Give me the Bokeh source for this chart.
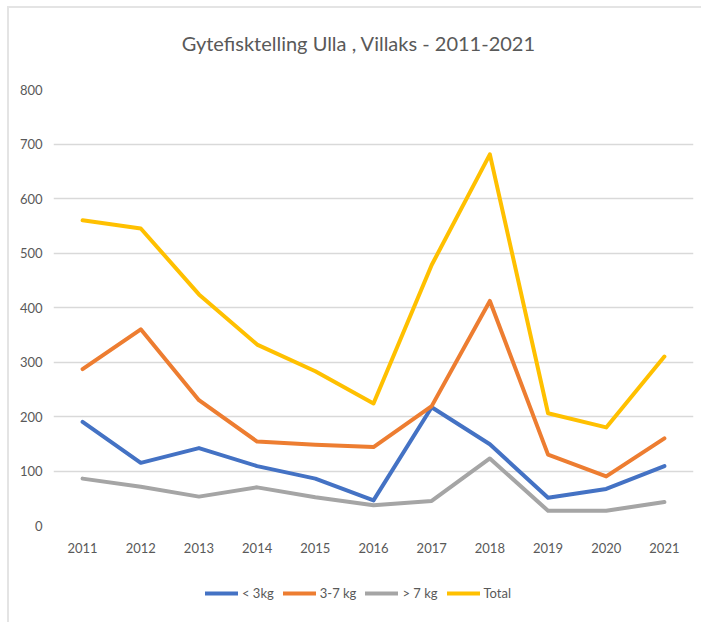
from bokeh.plotting import figure
from bokeh.layouts import column
from bokeh.models import Range1d, FixedTicker, Legend, LegendItem, Label
from bokeh.embed import file_html
from bokeh.resources import INLINE

years = [2011, 2012, 2013, 2014, 2015, 2016, 2017, 2018, 2019, 2020, 2021]
under_3kg = [190, 115, 142, 109, 86, 46, 217, 149, 51, 67, 109]
kg_3_7 = [287, 360, 230, 154, 148, 144, 219, 412, 130, 90, 160]
over_7kg = [86, 71, 53, 70, 52, 37, 45, 123, 27, 27, 43]
total = [560, 545, 424, 332, 283, 224, 478, 681, 206, 180, 310]

series_names = ["< 3kg", "3-7 kg", "> 7 kg", "Total"]
series_colors = ["#4472C4", "#ED7D31", "#A5A5A5", "#FFC000"]
y_ticks = [0, 100, 200, 300, 400, 500, 600, 700, 800]
title_text = "Gytefisktelling Ulla , Villaks - 2011-2021"

FONT = "Lato"
TXT = "#595959"
W = 692
all_series = [under_3kg, kg_3_7, over_7kg, total]

# --- title strip ---
pt = figure(width=W, height=60, output_backend="svg", toolbar_location=None,
            x_range=Range1d(0, W), y_range=Range1d(0, 60),
            x_axis_type=None, y_axis_type=None,
            min_border_left=0, min_border_right=0, min_border_top=0, min_border_bottom=0)
pt.outline_line_color = None
pt.add_layout(Label(x=330, y=26, text=title_text, text_align="center", text_baseline="middle",
                    text_font=FONT, text_font_size="20px", text_color=TXT))

# --- main chart ---
p = figure(frame_width=640, frame_height=436, output_backend="svg", toolbar_location=None,
           x_range=Range1d(2010.5, 2021.5), y_range=Range1d(0, 800),
           min_border_left=44, min_border_right=8, min_border_top=21, min_border_bottom=35)
p.outline_line_color = None
p.xgrid.grid_line_color = None
p.ygrid.grid_line_color = "#D9D9D9"
p.ygrid.grid_line_width = 1.5
p.ygrid.ticker = FixedTicker(ticks=y_ticks)

p.yaxis.ticker = FixedTicker(ticks=y_ticks)
p.xaxis.ticker = FixedTicker(ticks=years)
for ax in (p.xaxis, p.yaxis):
    ax.axis_line_color = None
    ax.major_tick_line_color = None
    ax.minor_tick_line_color = None
    ax.major_tick_out = 0
    ax.major_tick_in = 0
    ax.major_label_text_font = FONT
    ax.major_label_text_font_size = "13px"
    ax.major_label_text_color = TXT
p.yaxis.major_label_standoff = 11
p.xaxis.major_label_standoff = 17

for col, vals in zip(series_colors, all_series):
    p.line(years, vals, line_color=col, line_width=4, line_join="round", line_cap="round")

# --- legend strip (series lie outside this strip's ranges; only the legend shows) ---
p2 = figure(width=W, height=62, output_backend="svg", toolbar_location=None,
            x_range=Range1d(0, W), y_range=Range1d(0, 62),
            x_axis_type=None, y_axis_type=None,
            min_border_left=0, min_border_right=0, min_border_top=0, min_border_bottom=0)
p2.outline_line_color = None
items = []
for name, col, vals in zip(series_names, series_colors, all_series):
    r = p2.line(years, vals, line_color=col, line_width=4, line_cap="round")
    items.append(LegendItem(label=name, renderers=[r]))
legend = Legend(items=items, orientation="horizontal", location=(152, 21),
                label_text_font=FONT, label_text_font_size="13px", label_text_color=TXT,
                glyph_width=33, glyph_height=14, label_standoff=4, spacing=9,
                border_line_color=None, background_fill_alpha=0, margin=0, padding=4)
p2.add_layout(legend)

layout = column(pt, p, p2, spacing=0,
                styles={"margin-left": "7px", "margin-top": "6px",
                        "border-top": "2px solid #e4e4e4", "border-left": "2px solid #e4e4e4",
                        "box-sizing": "border-box"})

open("out.html", "w").write(file_html(layout, INLINE))
